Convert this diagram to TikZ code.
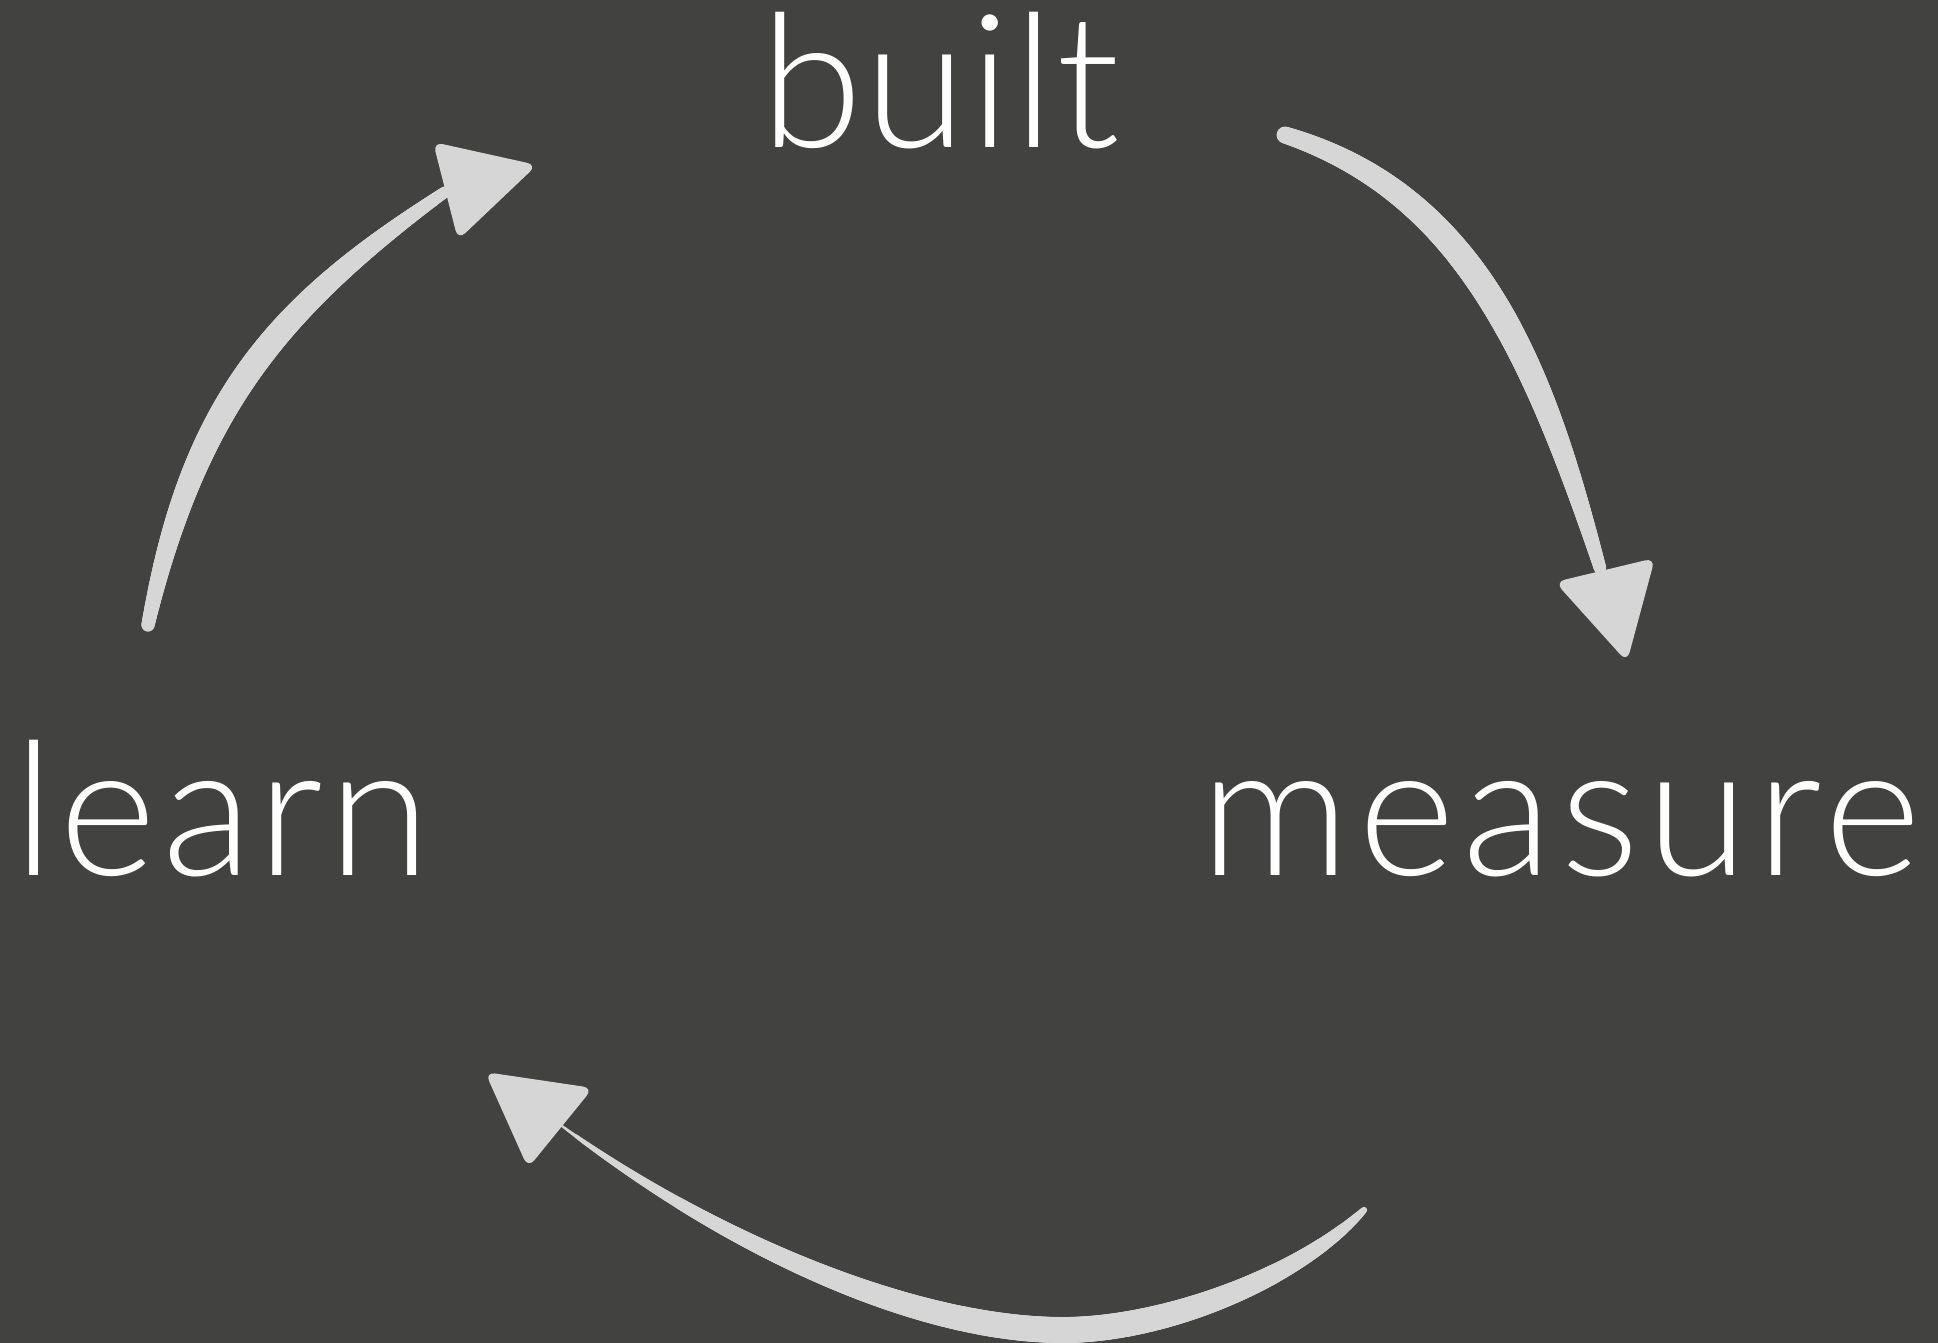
\documentclass[tikz,border=0pt]{standalone}
\usepackage{fontspec}
\newfontfamily\builtfont{Lato Light}[LetterSpace=1.2]
\newfontfamily\learnfont{Lato Light}[LetterSpace=2.8]
\newfontfamily\measurefont{Lato Light}[LetterSpace=4.0]
\usetikzlibrary{decorations.markings}
\definecolor{bgdark}{RGB}{66,66,64}
\definecolor{brushgray}{RGB}{214,214,214}
\tikzset{
  word/.style={text=white, inner sep=0pt, anchor=base},
  headfill/.style={fill=brushgray, rounded corners=5pt},
  brush/.style={decorate, decoration={markings,
      mark=between positions 0 and 1 step 0.6pt with {%
        \pgfmathsetmacro\brushf{\pgfkeysvalueof{/pgf/decoration/mark info/distance from start}/\pgfdecoratedpathlength}%
        \pgfmathsetmacro\brushr{#1}%
        \fill[brushgray] (0,0) circle[radius=\brushr pt];}}}
}
\begin{document}
\begin{tikzpicture}[x=0.5pt, y=-0.5pt]
  \fill[bgdark] (0,0) rectangle (1938,1343);
  \useasboundingbox (0,0) rectangle (1938,1343);

  % words
  \node[word, font=\builtfont\fontsize{93}{93}\selectfont] (built) at (940,148) {built};
  \node[word, font=\learnfont\fontsize{93}{93}\selectfont] (learn) at (222,875) {learn};
  \node[word, font=\measurefont\fontsize{93}{93}\selectfont] (measure) at (1561,875) {measure};

  % arrow built -> measure
  \coordinate (a1s) at (1285,135);
  \coordinate (a1c1) at (1475,195);
  \coordinate (a1c2) at (1540,368);
  \coordinate (a1e) at (1600,568);
  \path[brush={(14+10*sin(180*\brushf)-4*\brushf)/3.3}] (a1s) .. controls (a1c1) and (a1c2) .. (a1e);
  \coordinate (h1a) at (1555,582);
  \coordinate (h1b) at (1655,558);
  \coordinate (h1t) at (1627,662);
  \fill[headfill] (h1a) -- (h1b) -- (h1t) -- cycle;

  % arrow measure -> learn
  \coordinate (a2s) at (1364,1210);
  \coordinate (a2c1) at (1295,1280);
  \coordinate (a2c2) at (1160,1331);
  \coordinate (a2m) at (1060,1330);
  \coordinate (a2c3) at (920,1329);
  \coordinate (a2c4) at (730,1250);
  \coordinate (a2e) at (562,1126);
  \path[brush={(5+17*sin(180*(\brushf+0.0001)^0.75)-3*\brushf)/3.2}] (a2s) .. controls (a2c1) and (a2c2) .. (a2m) .. controls (a2c3) and (a2c4) .. (a2e);
  \coordinate (h2a) at (593,1088);
  \coordinate (h2b) at (528,1168);
  \coordinate (h2t) at (485,1072);
  \fill[headfill] (h2a) -- (h2b) -- (h2t) -- cycle;

  % arrow learn -> built
  \coordinate (a3s) at (148,625);
  \coordinate (a3c1) at (194,405);
  \coordinate (a3c2) at (275,309);
  \coordinate (a3e) at (445,192);
  \path[brush={(11+11*sin(180*\brushf)-2*\brushf)/3.3}] (a3s) .. controls (a3c1) and (a3c2) .. (a3e);
  \coordinate (h3a) at (433,142);
  \coordinate (h3b) at (458,240);
  \coordinate (h3t) at (537,165);
  \fill[headfill] (h3a) -- (h3b) -- (h3t) -- cycle;
\end{tikzpicture}
\end{document}
